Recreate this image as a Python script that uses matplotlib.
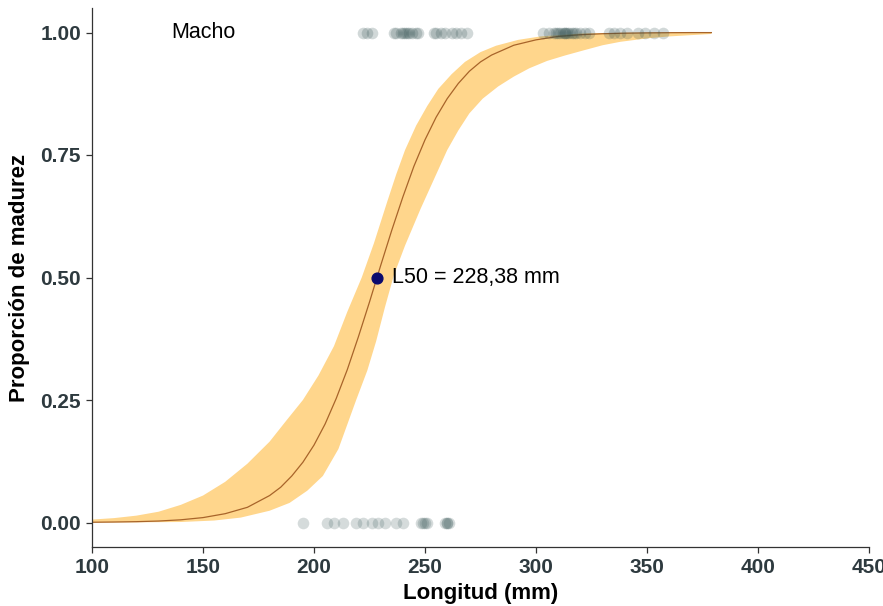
import matplotlib
matplotlib.use("Agg")
import matplotlib.pyplot as plt

# fitted maturity curve
curve_x = [100, 110, 120, 130, 140, 150, 160, 170, 180, 185, 190, 195, 200, 205,
           210, 215, 220, 225, 230, 235, 240, 245, 250, 255, 260, 265, 270, 275,
           280, 290, 300, 310, 320, 330, 340, 350, 360, 370, 379]
curve_p = [0.0005, 0.001, 0.0017, 0.003, 0.0055, 0.01, 0.018, 0.031, 0.055, 0.072,
           0.095, 0.123, 0.158, 0.201, 0.253, 0.312, 0.379, 0.45, 0.524, 0.596,
           0.664, 0.727, 0.781, 0.827, 0.865, 0.896, 0.921, 0.94, 0.954, 0.974,
           0.985, 0.992, 0.9955, 0.9975, 0.9986, 0.9992, 0.9996, 0.9998, 0.9998]

# confidence band edges
band_hi_x = [100, 110, 120, 130, 140, 150, 160, 170, 180, 187, 195, 202, 209, 215,
             221.5, 227, 233, 237, 241, 246, 251, 256, 262, 268, 275, 282, 292, 302,
             320, 340, 379]
band_hi_p = [0.006, 0.009, 0.014, 0.022, 0.036, 0.055, 0.083, 0.12, 0.165, 0.205,
             0.25, 0.30, 0.36, 0.43, 0.50, 0.57, 0.655, 0.71, 0.76, 0.81, 0.85, 0.885,
             0.915, 0.94, 0.96, 0.973, 0.985, 0.992, 0.998, 0.9995, 1.0]
band_lo_x = [100, 120, 140, 155, 167, 180, 189, 197, 204, 211, 219, 224, 228, 232,
             236, 241, 248, 254, 260, 265, 270, 276, 283, 290, 297, 305, 313, 321,
             330, 338, 350, 360, 379]
band_lo_p = [0.0, 0.0003, 0.001, 0.004, 0.01, 0.024, 0.04, 0.065, 0.095, 0.15, 0.25,
             0.31, 0.37, 0.44, 0.505, 0.565, 0.64, 0.70, 0.76, 0.80, 0.835, 0.865,
             0.89, 0.91, 0.927, 0.942, 0.953, 0.963, 0.974, 0.981, 0.988, 0.992, 0.997]

# observed lengths (mm)
mature_len = [222, 224, 226, 236, 237, 239, 240, 241, 242, 243, 244, 246, 247, 254,
              255, 257, 259, 262, 264, 266, 269, 303, 306, 308, 309, 310, 311, 312,
              313, 313, 314, 315, 316, 317, 318, 320, 322, 324, 333, 335, 338, 341,
              346, 349, 353, 357]
immature_len = [195, 206, 209, 213, 219, 222, 226, 229, 232, 237, 240, 248, 249, 250,
                251, 259, 260, 260, 261]

L50 = 228.38
x_ticks = [100, 150, 200, 250, 300, 350, 400, 450]
y_ticks = [0.0, 0.25, 0.5, 0.75, 1.0]
y_labels = ["0.00", "0.25", "0.50", "0.75", "1.00"]

plt.rcParams['font.family'] = ['Liberation Sans', 'DejaVu Sans']

fig = plt.figure(figsize=(8.83, 6.06), dpi=100)
ax = fig.add_axes([92 / 883, 59 / 606, 777 / 883, 539 / 606])

# ribbon as polygon: upper edge then lower edge reversed
poly_x = band_hi_x + band_lo_x[::-1]
poly_y = band_hi_p + band_lo_p[::-1]
ax.fill(poly_x, poly_y, color='orange', alpha=0.45, lw=0, zorder=1)
ax.plot(curve_x, curve_p, color='#A8642A', lw=0.9, zorder=2)

ax.scatter(mature_len, [1.0] * len(mature_len), s=70, color='#2F4F4F', alpha=0.22,
           lw=0, zorder=3)
ax.scatter(immature_len, [0.0] * len(immature_len), s=70, color='#2F4F4F', alpha=0.2,
           lw=0, zorder=3)

ax.scatter([L50], [0.5], s=60, color='#0A0A6E', zorder=4)
ax.text(235, 0.5, "L50 = 228,38 mm", fontsize=15.5, ha='left', va='center')
ax.text(150, 1.0, "Macho", fontsize=15.5, ha='center', va='center')

ax.set_xlim(100, 450)
ax.set_ylim(-0.05, 1.05)
ax.set_xticks(x_ticks)
ax.set_yticks(y_ticks)
ax.set_yticklabels(y_labels)
for lab in ax.get_xticklabels() + ax.get_yticklabels():
    lab.set_fontweight('bold')
    lab.set_fontsize(15)
    lab.set_color('#2E3A3F')
ax.tick_params(length=4, width=0.9, color='#333333', pad=4)

for side in ['top', 'right']:
    ax.spines[side].set_visible(False)
for side in ['left', 'bottom']:
    ax.spines[side].set_color('#333333')
    ax.spines[side].set_linewidth(0.9)

ax.set_xlabel("Longitud (mm)", fontsize=16, fontweight='bold', labelpad=4)
ax.set_ylabel("Proporción de madurez", fontsize=16, fontweight='bold', labelpad=7)

fig.savefig("out.png", dpi=100)
